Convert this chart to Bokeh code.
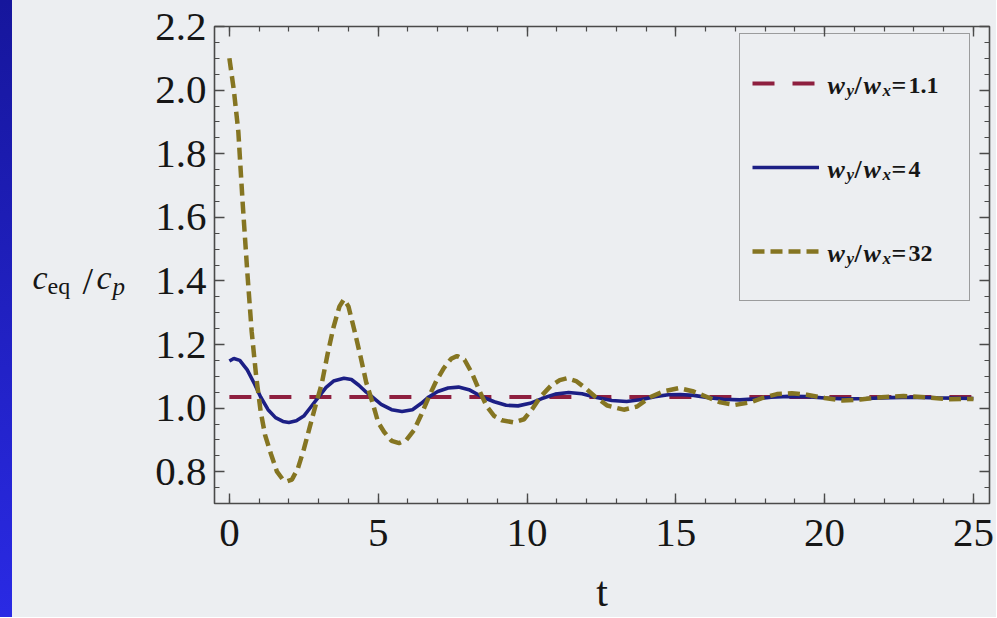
from bokeh.plotting import figure
from bokeh.layouts import row
from bokeh.models import (Range1d, FixedTicker, LinearAxis, Legend, LegendItem, Label,
                          CustomJSTickFormatter, PrintfTickFormatter)
from bokeh.core.properties import value
from bokeh.embed import file_html
from bokeh.resources import INLINE

# ---------------- data ----------------
t_ratio11 = [0.0, 25.0]
c_ratio11 = [1.035, 1.035]

t_ratio4 = [0.0, 0.15, 0.35, 0.6, 0.85, 1.05, 1.3, 1.55, 1.8, 2.0, 2.25, 2.5, 2.75, 3.0,
            3.25, 3.5, 3.85, 4.1, 4.35, 4.6, 4.8, 5.1, 5.45, 5.8, 6.15, 6.45, 6.7, 7.0,
            7.35, 7.7, 8.05, 8.5, 8.9, 9.3, 9.7, 10.1, 10.5, 10.95, 11.4, 11.85, 12.3,
            12.85, 13.35, 13.85, 14.3, 14.75, 15.15, 15.6, 16.1, 16.6, 17.15, 17.7, 18.2,
            18.8, 19.4, 20.0, 20.7, 21.4, 22.2, 23.0, 23.8, 25.0]
c_ratio4 = [1.148, 1.156, 1.150, 1.120, 1.075, 1.035, 0.995, 0.970, 0.958, 0.955, 0.960,
            0.975, 1.005, 1.035, 1.065, 1.085, 1.094, 1.090, 1.072, 1.050, 1.035, 1.012,
            0.995, 0.989, 0.995, 1.015, 1.035, 1.052, 1.063, 1.066, 1.058, 1.035, 1.020,
            1.009, 1.007, 1.015, 1.030, 1.044, 1.049, 1.045, 1.034, 1.024, 1.021, 1.027,
            1.036, 1.042, 1.043, 1.040, 1.033, 1.028, 1.026, 1.029, 1.034, 1.037, 1.036,
            1.032, 1.029, 1.030, 1.033, 1.034, 1.032, 1.030]

t_ratio32 = [0.0, 0.15, 0.3, 0.45, 0.6, 0.75, 0.9, 1.05, 1.2, 1.4, 1.6, 1.8, 1.95, 2.1,
             2.3, 2.5, 2.7, 2.9, 3.1, 3.3, 3.5, 3.7, 3.85, 4.0, 4.2, 4.4, 4.6, 4.8, 5.0,
             5.2, 5.45, 5.7, 5.95, 6.2, 6.45, 6.7, 6.95, 7.2, 7.45, 7.65, 7.9, 8.15, 8.4,
             8.65, 8.9, 9.15, 9.55, 9.9, 10.2, 10.45, 10.8, 11.1, 11.35, 11.65, 12.0,
             12.3, 12.7, 13.25, 13.7, 14.15, 14.6, 15.1, 15.6, 16.05, 16.5, 17.0, 17.5,
             17.95, 18.4, 18.9, 19.4, 20.0, 20.6, 21.2, 21.9, 22.65, 23.4, 24.1, 25.0]
c_ratio32 = [2.10, 2.00, 1.87, 1.64, 1.43, 1.24, 1.10, 0.99, 0.915, 0.855, 0.800, 0.775,
             0.770, 0.775, 0.810, 0.870, 0.940, 1.010, 1.075, 1.170, 1.255, 1.320, 1.342,
             1.320, 1.245, 1.165, 1.080, 1.020, 0.955, 0.925, 0.897, 0.890, 0.900, 0.930,
             0.980, 1.035, 1.085, 1.125, 1.155, 1.164, 1.152, 1.110, 1.055, 1.005, 0.975,
             0.962, 0.955, 0.965, 1.000, 1.035, 1.070, 1.088, 1.094, 1.085, 1.060, 1.035,
             1.008, 0.995, 1.005, 1.035, 1.053, 1.063, 1.052, 1.035, 1.018, 1.010, 1.018,
             1.033, 1.044, 1.047, 1.042, 1.032, 1.024, 1.027, 1.034, 1.038, 1.034, 1.028,
             1.029]

x_major = [0, 5, 10, 15, 20, 25]
x_minor = [0, 1, 2, 3, 4, 5, 6, 7, 8, 9, 10, 11, 12, 13, 14, 15, 16, 17, 18, 19, 20,
           21, 22, 23, 24, 25]
y_major = [0.8, 1.0, 1.2, 1.4, 1.6, 1.8, 2.0, 2.2]
y_minor = [0.7, 0.75, 0.8, 0.85, 0.9, 0.95, 1.0, 1.05, 1.1, 1.15, 1.2, 1.25, 1.3, 1.35,
           1.4, 1.45, 1.5, 1.55, 1.6, 1.65, 1.7, 1.75, 1.8, 1.85, 1.9, 1.95, 2.0, 2.05,
           2.1, 2.15, 2.2]
ratio_labels = ["1.1", "4", "32"]

# ---------------- styling ----------------
BG = "#eceef1"
FRAME = "#4a4a4a"
TXT = "#161616"
RED = "#8e1f3f"
BLUE = "#1c1f85"
OLIVE = "#857522"
FONT = "Liberation Serif"

TOTAL_H = 617
BAND = 12          # blue slide edge on the left
LEFT_W = 128       # page x where the main plot starts
FL, FT, FR, FB = 214, 26, 989, 505   # frame edges in page pixels

# ---------- left panel: y-axis title c_eq / c_p ----------
lf = figure(width=LEFT_W - BAND, height=TOTAL_H, output_backend="svg",
            toolbar_location=None, x_range=Range1d(BAND, LEFT_W),
            y_range=Range1d(FB, FT), x_axis_location=None, y_axis_location=None,
            min_border_left=0, min_border_right=0, min_border_top=FT,
            min_border_bottom=TOTAL_H - FB, background_fill_color=None,
            border_fill_color=BG)
lf.margin = (0, 0, 0, BAND)
lf.xgrid.visible = False
lf.ygrid.visible = False
lf.outline_line_color = None


def title_piece(s, X, Y, size, style="normal"):
    lf.text(x=[X], y=[Y], text=[s], text_font=value(FONT),
            text_font_size=value(size), text_font_style=style, text_color=TXT,
            text_align="left", text_baseline="alphabetic")


title_piece("c", 32, 278, "34px", "italic")
title_piece("eq", 47, 287, "24px")
title_piece("/", 82, 282, "38px")
title_piece("c", 96, 278, "34px", "italic")
title_piece("p", 112, 287, "25px", "italic")

# ---------- main plot ----------
P_W = 996 - LEFT_W
p = figure(width=P_W, height=TOTAL_H, output_backend="svg", toolbar_location=None,
           x_range=Range1d(-0.5, 25.54), y_range=Range1d(0.7, 2.2),
           min_border_left=FL - LEFT_W, min_border_right=996 - FR, min_border_top=FT,
           min_border_bottom=TOTAL_H - FB, background_fill_color=BG,
           border_fill_color=BG)
p.xgrid.visible = False
p.ygrid.visible = False
p.outline_line_color = FRAME
p.outline_line_width = 1.6


def style_axis(ax, ticker, labels=True):
    ax.ticker = ticker
    ax.axis_line_color = None
    ax.major_tick_in = 10
    ax.major_tick_out = 0
    ax.minor_tick_in = 5
    ax.minor_tick_out = 0
    ax.major_tick_line_color = FRAME
    ax.minor_tick_line_color = FRAME
    ax.major_tick_line_width = 1.4
    ax.minor_tick_line_width = 1.2
    ax.major_label_text_font = FONT
    ax.major_label_text_font_size = "41px"
    ax.major_label_text_color = TXT
    if not labels:
        ax.formatter = CustomJSTickFormatter(code="return ''")
        ax.major_label_standoff = 0


xb = p.xaxis[0]
style_axis(xb, FixedTicker(ticks=x_major, minor_ticks=x_minor))
xb.major_label_standoff = 16
xb.axis_label = "t"
xb.axis_label_text_font = FONT
xb.axis_label_text_font_size = "42px"
xb.axis_label_text_font_style = "normal"
xb.axis_label_text_color = TXT
xb.axis_label_standoff = 20

yl = p.yaxis[0]
style_axis(yl, FixedTicker(ticks=y_major, minor_ticks=y_minor))
yl.formatter = PrintfTickFormatter(format="%.1f")
yl.major_label_standoff = 8

xtop = LinearAxis()
style_axis(xtop, FixedTicker(ticks=x_major, minor_ticks=x_minor), labels=False)
p.add_layout(xtop, "above")
yright = LinearAxis()
style_axis(yright, FixedTicker(ticks=y_major, minor_ticks=y_minor), labels=False)
p.add_layout(yright, "right")

r11 = p.line(t_ratio11, c_ratio11, line_color=RED, line_width=4, line_dash="22 18")
r4 = p.line(t_ratio4, c_ratio4, line_color=BLUE, line_width=3.6)
r32 = p.line(t_ratio32, c_ratio32, line_color=OLIVE, line_width=4.5, line_dash="12 6")

legend = Legend(items=[LegendItem(label="", renderers=[r]) for r in (r11, r4, r32)],
                location=(525, 202), padding=12, spacing=10, margin=0,
                glyph_width=67, glyph_height=74, label_height=74, label_width=130,
                label_standoff=8, border_line_color=FRAME, border_line_width=1.6,
                background_fill_color=BG, background_fill_alpha=0.0)
p.add_layout(legend)


def legend_piece(s, X, Y, size, style):
    p.add_layout(Label(x=X - FL, y=FB - Y, x_units="screen", y_units="screen", text=s,
                       text_font=FONT, text_font_size=size, text_font_style=style,
                       text_color=TXT, text_align="left", text_baseline="alphabetic",
                       level="overlay"))


# legend texts  w_y / w_x = value
for lab, yb in zip(ratio_labels, [87, 171, 255]):
    x0 = 827
    legend_piece("w", x0, yb, "26px", "bold italic")
    legend_piece("y", x0 + 19, yb + 5, "17px", "bold italic")
    legend_piece("/", x0 + 27, yb, "26px", "bold")
    legend_piece("w", x0 + 36, yb, "26px", "bold italic")
    legend_piece("x", x0 + 55, yb + 5, "17px", "bold italic")
    legend_piece("=", x0 + 64, yb, "26px", "bold")
    legend_piece(lab, x0 + 81, yb, "24px", "bold")

layout = row(lf, p)
layout.styles = {
    "background": "linear-gradient(to right, rgba(0,0,0,0) 12px, #eceef1 12px), "
                  "linear-gradient(#16169c, #2a2ae4)"
}
open("out.html", "w").write(file_html(layout, INLINE))
